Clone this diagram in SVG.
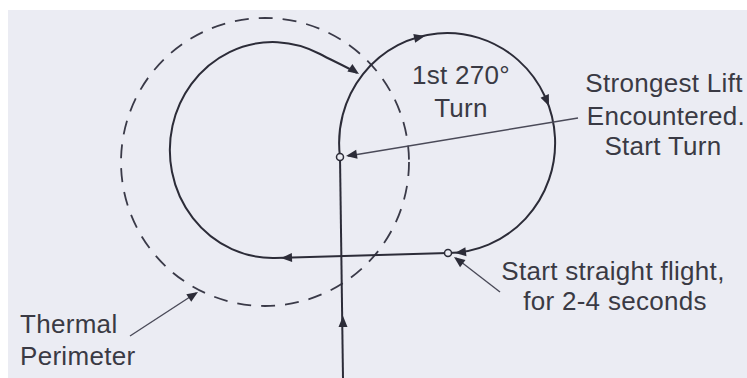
<svg xmlns="http://www.w3.org/2000/svg" xmlns:xlink="http://www.w3.org/1999/xlink" width="747" height="378" viewBox="0 0 747 378">
<style>
.lbl{font-family:"Liberation Sans",Arial,sans-serif;font-size:26px;fill:#3a3a44;letter-spacing:0.3px}
.mid{text-anchor:middle}
.path{fill:none;stroke:#2c2c38;stroke-width:2}
.lead{fill:none;stroke:#4a4a58;stroke-width:1.4}
.perim{fill:none;stroke:#3a3a48;stroke-width:1.8;stroke-dasharray:14 10}
.ah{fill:#2c2c38}
.pt{fill:#ebecf3;stroke:#2c2c38;stroke-width:1.5}
</style>
<defs>
<path id="ah" d="M0,0 L-11,-4.5 L-11,4.5 Z"/>
</defs>
<rect x="0" y="0" width="747" height="378" fill="#ffffff"/>
<rect x="8" y="10" width="739" height="368" fill="#ebecf3"/>

<g id="thermal-perimeter">
<circle class="perim" cx="265" cy="162" r="144"/>
</g>

<g id="connectors">
<path class="path" d="M343,378 L340,157"/>
<path class="path" d="M340,157 A108 110 0 1 1 448,253"/>
<path class="path" d="M448,253 L275,258"/>
<path class="path" d="M275,258 A103 108 0 1 1 320,54 C332,60.5 345,66 357,73"/>
<use href="#ah" class="ah" transform="translate(359,74) rotate(34)"/>
<use href="#ah" class="ah" transform="translate(425,36) rotate(-12)"/>
<use href="#ah" class="ah" transform="translate(549,106) rotate(67)"/>
<use href="#ah" class="ah" transform="translate(455,253) rotate(173)"/>
<use href="#ah" class="ah" transform="translate(281,258) rotate(178)"/>
<use href="#ah" class="ah" transform="translate(343,316) rotate(-90)"/>
<path class="lead" d="M578,118 L348,156"/>
<use href="#ah" class="ah" transform="translate(346,156) rotate(171)"/>
<path class="lead" d="M500,292 L456,258"/>
<use href="#ah" class="ah" transform="translate(454,257) rotate(217)"/>
<path class="lead" d="M130,336 L196,293"/>
<use href="#ah" class="ah" transform="translate(198,292) rotate(-33)"/>
<circle class="pt" cx="340" cy="157" r="3.5"/>
<circle class="pt" cx="448" cy="253" r="3.5"/>
</g>

<g id="label-turn">
<text class="lbl mid" x="461" y="84">1st 270°</text>
<text class="lbl mid" x="461" y="117">Turn</text>
</g>
<g id="label-strongest-lift">
<text class="lbl mid" x="664" y="92">Strongest Lift</text>
<text class="lbl mid" x="666" y="125">Encountered.</text>
<text class="lbl mid" x="663" y="155">Start Turn</text>
</g>
<g id="label-straight-flight">
<text class="lbl mid" x="613" y="280">Start straight flight,</text>
<text class="lbl mid" x="615" y="310">for 2-4 seconds</text>
</g>
<g id="label-thermal-perimeter">
<text class="lbl" x="20" y="333">Thermal</text>
<text class="lbl" x="20" y="365">Perimeter</text>
</g>
</svg>
